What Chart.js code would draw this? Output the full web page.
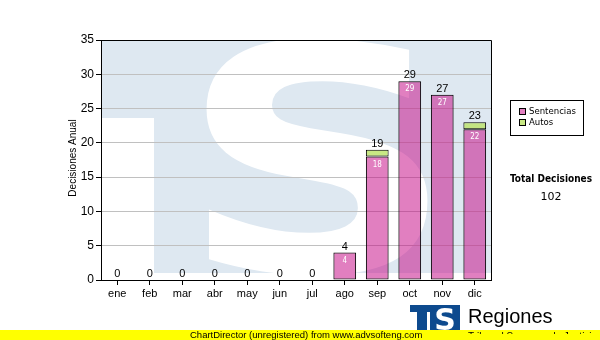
<!DOCTYPE html>
<html>
<head>
<meta charset="utf-8">
<script src="https://cdn.jsdelivr.net/npm/chart.js@4/dist/chart.umd.min.js"></script>
<style>
  html, body { margin: 0; padding: 0; background: #ffffff; }
  #wrap { width: 600px; height: 340px; position: relative; }
</style>
</head>
<body>
<div id="wrap"><canvas id="c" width="600" height="340"></canvas></div>
<script>
const categories = ['ene', 'feb', 'mar', 'abr', 'may', 'jun', 'jul', 'ago', 'sep', 'oct', 'nov', 'dic'];
const sentencias = [0, 0, 0, 0, 0, 0, 0, 4, 18, 29, 27, 22];
const autos = [0, 0, 0, 0, 0, 0, 0, 0, 1, 0, 0, 1];
const seriesNames = ['Sentencias', 'Autos'];
const yAxisTitle = 'Decisiones Anual';
const totalTitle = 'Total Decisiones';
const yMax = 35;
const yStep = 5;

const PINK = 'rgba(195, 0, 130, 0.5)';
const GREEN = 'rgba(190, 228, 110, 0.85)';
const BG_BLUE = '#dee8f1';

const watermark = {
  id: 'watermark',
  beforeDraw(chart) {
    const { ctx, chartArea: a } = chart;
    ctx.save();
    ctx.beginPath();
    ctx.rect(a.left, a.top, a.right - a.left, a.bottom - a.top);
    ctx.clip();
    ctx.fillStyle = BG_BLUE;
    ctx.fillRect(a.left + 1, a.top, a.right - a.left, 273 - a.top);
    ctx.fillStyle = '#ffffff';
    ctx.fillRect(a.left, 118, 53, a.bottom - 118);
    // big white S
    ctx.font = 'bold 300px "DejaVu Sans"';
    const m = ctx.measureText('S');
    const w = m.actualBoundingBoxLeft + m.actualBoundingBoxRight;
    const h = m.actualBoundingBoxAscent + m.actualBoundingBoxDescent;
    const bx = 203, by = 36, bw = 228, bh = 240;
    ctx.translate(bx, by);
    ctx.scale(bw / w, bh / h);
    ctx.fillStyle = '#ffffff';
    ctx.textBaseline = 'alphabetic';
    ctx.fillText('S', m.actualBoundingBoxLeft, m.actualBoundingBoxAscent);
    ctx.restore();
  }
};

const extras = {
  id: 'extras',
  afterDatasetsDraw(chart) {
    const { ctx, chartArea: a } = chart;
    const ys = chart.scales.y;
    const meta = chart.getDatasetMeta(0);
    ctx.save();
    ctx.strokeStyle = '#000';
    ctx.lineWidth = 1;
    ctx.beginPath();
    ctx.moveTo(a.left, a.top + 0.5);
    ctx.lineTo(a.right + 0.5, a.top + 0.5);
    ctx.lineTo(a.right + 0.5, a.bottom);
    ctx.stroke();
    ctx.textAlign = 'center';
    ctx.textBaseline = 'alphabetic';
    for (let i = 0; i < categories.length; i++) {
      const x = meta.data[i].x;
      const total = sentencias[i] + autos[i];
      ctx.fillStyle = '#000';
      ctx.font = '11px "Liberation Sans", Arial, sans-serif';
      ctx.fillText(String(total), x, ys.getPixelForValue(total) - 3);
      if (sentencias[i] > 0) {
        ctx.fillStyle = '#ffffff';
        ctx.font = '8px "DejaVu Sans Condensed", "DejaVu Sans", sans-serif';
        ctx.fillText(String(sentencias[i]), x, ys.getPixelForValue(sentencias[i]) + 10);
      }
    }
    ctx.restore();
  },
  afterDraw(chart) {
    const { ctx } = chart;
    ctx.save();
    ctx.save();
    ctx.translate(76, 158);
    ctx.rotate(-Math.PI / 2);
    ctx.fillStyle = '#000';
    ctx.font = '10px "Liberation Sans", Arial, sans-serif';
    ctx.textAlign = 'center';
    ctx.textBaseline = 'alphabetic';
    ctx.fillText(yAxisTitle, 0, 0);
    ctx.restore();

    ctx.strokeStyle = '#000';
    ctx.lineWidth = 1;
    ctx.strokeRect(510.5, 100.5, 73, 35);
    const colors = [PINK, GREEN];
    ctx.font = '9.5px "DejaVu Sans Condensed", "DejaVu Sans", sans-serif';
    ctx.textAlign = 'left';
    ctx.textBaseline = 'middle';
    for (let k = 0; k < seriesNames.length; k++) {
      const yy = 112 + k * 11;
      ctx.fillStyle = '#fff';
      ctx.fillRect(519, yy - 4, 7, 7);
      ctx.fillStyle = colors[k];
      ctx.fillRect(519, yy - 4, 7, 7);
      ctx.strokeStyle = '#000';
      ctx.strokeRect(519.5, yy - 3.5, 6, 6);
      ctx.fillStyle = '#000';
      ctx.fillText(seriesNames[k], 529, yy);
    }

    const grand = sentencias.reduce((s, v) => s + v, 0) + autos.reduce((s, v) => s + v, 0);
    ctx.textAlign = 'center';
    ctx.textBaseline = 'alphabetic';
    ctx.font = 'bold 10px "DejaVu Sans Condensed", "DejaVu Sans", sans-serif';
    ctx.fillText(totalTitle, 551, 182);
    ctx.font = '11px "DejaVu Sans", sans-serif';
    ctx.fillText(String(grand), 551, 200);

    // logo
    ctx.fillStyle = '#0d4a8e';
    ctx.fillRect(410, 305, 50, 25);
    ctx.fillStyle = '#ffffff';
    ctx.fillRect(410, 312, 7, 18);
    ctx.fillRect(427, 312, 3, 18);
    ctx.font = 'bold 30px "DejaVu Sans"';
    ctx.textAlign = 'center';
    ctx.fillText('S', 445, 330);
    ctx.fillStyle = '#000';
    ctx.textAlign = 'left';
    ctx.font = '20px "Liberation Sans", Arial, sans-serif';
    ctx.fillText('Regiones', 468, 323);

    // yellow banner
    ctx.fillStyle = '#ffff00';
    ctx.fillRect(0, 330, 600, 10);
    ctx.fillStyle = '#000';
    ctx.font = '9.5px "Liberation Sans", Arial, sans-serif';
    ctx.textBaseline = 'alphabetic';
    ctx.fillText('ChartDirector (unregistered) from www.advsofteng.com', 190, 338);
    ctx.save();
    ctx.beginPath();
    ctx.rect(460, 320, 140, 14);
    ctx.clip();
    ctx.font = '10px "Liberation Sans", Arial, sans-serif';
    ctx.fillText('Tribunal Supremo de Justicia', 468, 340);
    ctx.restore();
    ctx.restore();
  }
};

new Chart(document.getElementById('c'), {
  type: 'bar',
  data: {
    labels: categories,
    datasets: [
      { label: seriesNames[0], data: sentencias, backgroundColor: PINK, borderColor: '#000', borderWidth: 1, borderSkipped: false, barPercentage: 0.7, categoryPercentage: 1.0 },
      { label: seriesNames[1], data: autos, backgroundColor: GREEN, borderColor: '#000', borderWidth: 1, borderSkipped: false, barPercentage: 0.7, categoryPercentage: 1.0 }
    ]
  },
  options: {
    responsive: false,
    animation: false,
    devicePixelRatio: 1,
    layout: { padding: { top: 40, right: 109, left: 0, bottom: 0 } },
    plugins: { legend: { display: false }, tooltip: { enabled: false }, title: { display: false } },
    scales: {
      x: {
        stacked: true,
        grid: { display: true, drawOnChartArea: false, offset: false, tickLength: 5, tickColor: '#000' },
        border: { color: '#000', width: 1 },
        ticks: { color: '#000', font: { family: '"Liberation Sans", Arial, sans-serif', size: 11 }, padding: 2, maxRotation: 0, autoSkip: false },
        afterFit(s) { s.height = 60; }
      },
      y: {
        stacked: true,
        min: 0,
        max: yMax,
        grid: { color: '#c0c0c0', tickColor: '#000', tickLength: 5 },
        border: { color: '#000', width: 1 },
        ticks: { stepSize: yStep, color: '#000', font: { family: '"Liberation Sans", Arial, sans-serif', size: 12 }, padding: 2 },
        afterFit(s) { s.width = 101; }
      }
    }
  },
  plugins: [watermark, extras]
});
</script>
</body>
</html>
